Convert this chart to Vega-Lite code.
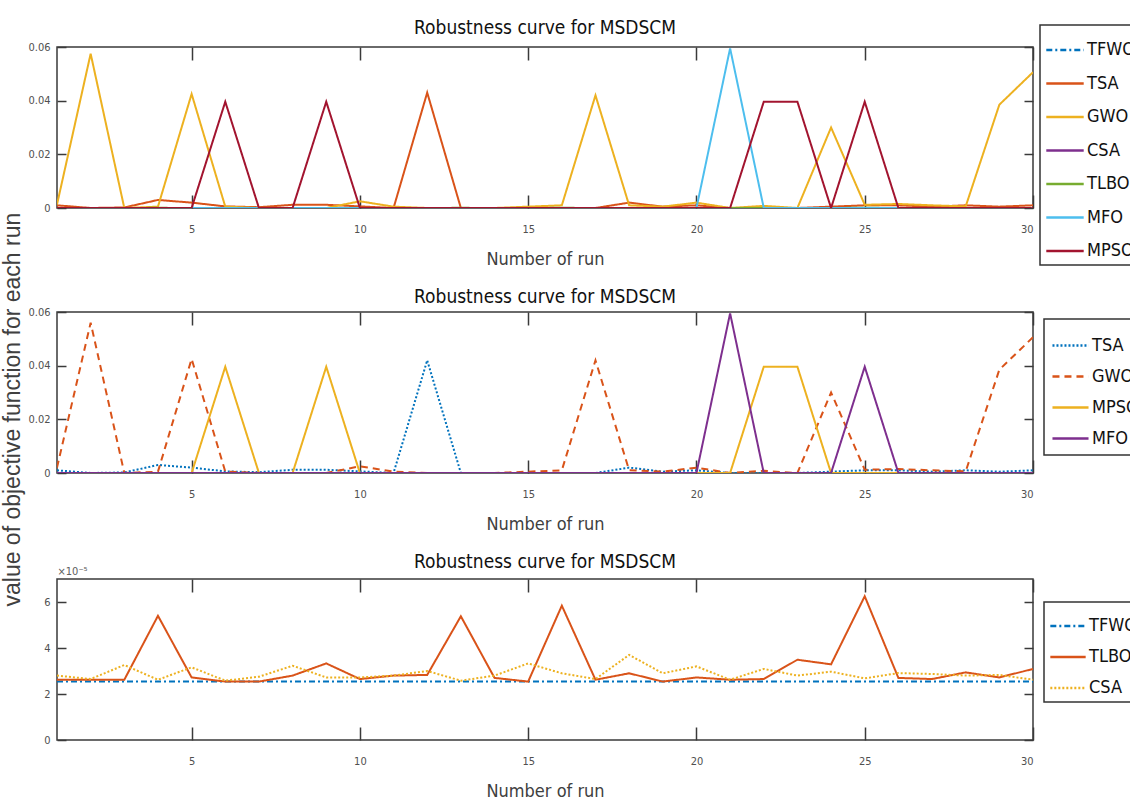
{
  "$schema": "https://vega.github.io/schema/vega-lite/v6.json",
  "background": "white",
  "padding": {"left": 2, "top": 18, "right": 0, "bottom": 0},
  "title": {"text": "value of objective function for each run", "orient": "left", "anchor": "middle", "font": "Liberation Sans, Arial, sans-serif", "fontSize": 23, "fontWeight": "normal", "color": "#404040", "offset": 2},
  "datasets": {
    "p1": [
      {"run":1,"TFWO":0.0000254,"TSA":0.001,"GWO":0.0013,"CSA":0.000028,"TLBO":0.0000262,"MFO":0,"MPSO":0},
      {"run":2,"TFWO":0.0000254,"TSA":0,"GWO":0.0575,"CSA":0.0000265,"TLBO":0.0000262,"MFO":0,"MPSO":0},
      {"run":3,"TFWO":0.0000254,"TSA":0.0002,"GWO":0,"CSA":0.0000326,"TLBO":0.0000262,"MFO":0,"MPSO":0},
      {"run":4,"TFWO":0.0000254,"TSA":0.003,"GWO":0.0005,"CSA":0.0000262,"TLBO":0.000054,"MFO":0,"MPSO":0},
      {"run":5,"TFWO":0.0000254,"TSA":0.002,"GWO":0.0425,"CSA":0.0000316,"TLBO":0.0000272,"MFO":0,"MPSO":0},
      {"run":6,"TFWO":0.0000254,"TSA":0.0006,"GWO":0.0005,"CSA":0.0000258,"TLBO":0.0000254,"MFO":0,"MPSO":0.0396},
      {"run":7,"TFWO":0.0000254,"TSA":0.0003,"GWO":0,"CSA":0.0000275,"TLBO":0.0000254,"MFO":0,"MPSO":0},
      {"run":8,"TFWO":0.0000254,"TSA":0.0012,"GWO":0,"CSA":0.0000323,"TLBO":0.000028,"MFO":0,"MPSO":0},
      {"run":9,"TFWO":0.0000254,"TSA":0.0012,"GWO":0,"CSA":0.0000272,"TLBO":0.0000333,"MFO":0,"MPSO":0.0396},
      {"run":10,"TFWO":0.0000254,"TSA":0.0006,"GWO":0.0025,"CSA":0.0000272,"TLBO":0.0000265,"MFO":0,"MPSO":0},
      {"run":11,"TFWO":0.0000254,"TSA":0,"GWO":0.0005,"CSA":0.000028,"TLBO":0.000028,"MFO":0,"MPSO":0},
      {"run":12,"TFWO":0.0000254,"TSA":0.043,"GWO":0,"CSA":0.00003,"TLBO":0.0000283,"MFO":0,"MPSO":0},
      {"run":13,"TFWO":0.0000254,"TSA":0,"GWO":0,"CSA":0.0000258,"TLBO":0.0000538,"MFO":0,"MPSO":0},
      {"run":14,"TFWO":0.0000254,"TSA":0,"GWO":0,"CSA":0.000028,"TLBO":0.000027,"MFO":0,"MPSO":0},
      {"run":15,"TFWO":0.0000254,"TSA":0,"GWO":0.0005,"CSA":0.0000333,"TLBO":0.0000254,"MFO":0,"MPSO":0},
      {"run":16,"TFWO":0.0000254,"TSA":0,"GWO":0.001,"CSA":0.000029,"TLBO":0.0000584,"MFO":0,"MPSO":0},
      {"run":17,"TFWO":0.0000254,"TSA":0,"GWO":0.042,"CSA":0.0000265,"TLBO":0.0000262,"MFO":0,"MPSO":0},
      {"run":18,"TFWO":0.0000254,"TSA":0.002,"GWO":0.001,"CSA":0.000037,"TLBO":0.000029,"MFO":0,"MPSO":0},
      {"run":19,"TFWO":0.0000254,"TSA":0.0005,"GWO":0.0005,"CSA":0.000029,"TLBO":0.0000254,"MFO":0,"MPSO":0},
      {"run":20,"TFWO":0.0000254,"TSA":0.001,"GWO":0.002,"CSA":0.000032,"TLBO":0.0000272,"MFO":0,"MPSO":0},
      {"run":21,"TFWO":0.0000254,"TSA":0,"GWO":0,"CSA":0.0000262,"TLBO":0.0000262,"MFO":0.0595,"MPSO":0},
      {"run":22,"TFWO":0.0000254,"TSA":0,"GWO":0.0008,"CSA":0.0000309,"TLBO":0.0000265,"MFO":0,"MPSO":0.0396},
      {"run":23,"TFWO":0.0000254,"TSA":0,"GWO":0,"CSA":0.000028,"TLBO":0.0000349,"MFO":0,"MPSO":0.0396},
      {"run":24,"TFWO":0.0000254,"TSA":0.0005,"GWO":0.03,"CSA":0.0000297,"TLBO":0.0000329,"MFO":0,"MPSO":0},
      {"run":25,"TFWO":0.0000254,"TSA":0.001,"GWO":0.0012,"CSA":0.0000268,"TLBO":0.0000625,"MFO":0,"MPSO":0.0396},
      {"run":26,"TFWO":0.0000254,"TSA":0.001,"GWO":0.0015,"CSA":0.0000291,"TLBO":0.000027,"MFO":0,"MPSO":0},
      {"run":27,"TFWO":0.0000254,"TSA":0.0005,"GWO":0.001,"CSA":0.0000287,"TLBO":0.0000265,"MFO":0,"MPSO":0},
      {"run":28,"TFWO":0.0000254,"TSA":0.001,"GWO":0.0006,"CSA":0.000028,"TLBO":0.0000294,"MFO":0,"MPSO":0},
      {"run":29,"TFWO":0.0000254,"TSA":0.0005,"GWO":0.0385,"CSA":0.0000283,"TLBO":0.0000272,"MFO":0,"MPSO":0},
      {"run":30,"TFWO":0.0000254,"TSA":0.001,"GWO":0.0506,"CSA":0.0000262,"TLBO":0.0000309,"MFO":0,"MPSO":0}
    ],
    "p2": [
      {"run":1,"TSA":0.001,"GWO":0.002,"MPSO":0,"MFO":0},
      {"run":2,"TSA":0,"GWO":0.056,"MPSO":0,"MFO":0},
      {"run":3,"TSA":0.0002,"GWO":0,"MPSO":0,"MFO":0},
      {"run":4,"TSA":0.003,"GWO":0.0005,"MPSO":0,"MFO":0},
      {"run":5,"TSA":0.002,"GWO":0.0425,"MPSO":0,"MFO":0},
      {"run":6,"TSA":0.0006,"GWO":0.0005,"MPSO":0.0396,"MFO":0},
      {"run":7,"TSA":0.0003,"GWO":0,"MPSO":0,"MFO":0},
      {"run":8,"TSA":0.0012,"GWO":0,"MPSO":0,"MFO":0},
      {"run":9,"TSA":0.0012,"GWO":0,"MPSO":0.0396,"MFO":0},
      {"run":10,"TSA":0.0006,"GWO":0.0025,"MPSO":0,"MFO":0},
      {"run":11,"TSA":0,"GWO":0.0005,"MPSO":0,"MFO":0},
      {"run":12,"TSA":0.042,"GWO":0,"MPSO":0,"MFO":0},
      {"run":13,"TSA":0,"GWO":0,"MPSO":0,"MFO":0},
      {"run":14,"TSA":0,"GWO":0,"MPSO":0,"MFO":0},
      {"run":15,"TSA":0,"GWO":0.0005,"MPSO":0,"MFO":0},
      {"run":16,"TSA":0,"GWO":0.001,"MPSO":0,"MFO":0},
      {"run":17,"TSA":0,"GWO":0.042,"MPSO":0,"MFO":0},
      {"run":18,"TSA":0.002,"GWO":0.001,"MPSO":0,"MFO":0},
      {"run":19,"TSA":0.0005,"GWO":0.0005,"MPSO":0,"MFO":0},
      {"run":20,"TSA":0.001,"GWO":0.002,"MPSO":0,"MFO":0},
      {"run":21,"TSA":0,"GWO":0,"MPSO":0,"MFO":0.0595},
      {"run":22,"TSA":0,"GWO":0.0008,"MPSO":0.0396,"MFO":0},
      {"run":23,"TSA":0,"GWO":0,"MPSO":0.0396,"MFO":0},
      {"run":24,"TSA":0.0005,"GWO":0.03,"MPSO":0,"MFO":0},
      {"run":25,"TSA":0.001,"GWO":0.0012,"MPSO":0,"MFO":0.0396},
      {"run":26,"TSA":0.001,"GWO":0.0015,"MPSO":0,"MFO":0},
      {"run":27,"TSA":0.0005,"GWO":0.001,"MPSO":0,"MFO":0},
      {"run":28,"TSA":0.001,"GWO":0.0006,"MPSO":0,"MFO":0},
      {"run":29,"TSA":0.0005,"GWO":0.0385,"MPSO":0,"MFO":0},
      {"run":30,"TSA":0.001,"GWO":0.0506,"MPSO":0,"MFO":0}
    ]
  },
  "spacing": 18,
  "vconcat": [
    {
      "title": {"text": "Robustness curve for MSDSCM", "dy": 18},
      "width": 976, "height": 161,
      "data": {"name": "p1"},
      "transform": [{"fold": ["TFWO","TSA","GWO","CSA","TLBO","MFO","MPSO"], "as": ["alg","v"]}],
      "layer": [
        {
          "mark": {"type": "line", "strokeWidth": 2, "clip": true},
          "encoding": {
            "x": {"field": "run", "type": "quantitative", "scale": {"domain": [1,30], "nice": false}, "axis": {"values": [5,10,15,20,25,30], "title": "Number of run"}},
            "y": {"field": "v", "type": "quantitative", "scale": {"domain": [0,0.06], "nice": false}, "axis": {"values": [0,0.02,0.04,0.06], "format": "~g", "title": null}},
            "color": {"field": "alg", "type": "nominal", "scale": {"domain": ["TFWO","TSA","GWO","CSA","TLBO","MFO","MPSO"], "range": ["#0072BD","#D95319","#EDB120","#7E2F8E","#77AC30","#4DBEEE","#A2142F"]}, "legend": {"orient": "none", "legendX": 983, "legendY": -22, "symbolSize": 1400, "rowPadding": 4.5}},
            "strokeDash": {"field": "alg", "type": "nominal", "scale": {"domain": ["TFWO","TSA","GWO","CSA","TLBO","MFO","MPSO"], "range": [[6,3,2,3],[1,0],[1,0],[1,0],[1,0],[1,0],[1,0]]}, "legend": {"orient": "none", "legendX": 983, "legendY": -22, "symbolSize": 1400, "rowPadding": 4.5}}
          }
        },
        {
          "mark": {"type": "line", "opacity": 0},
          "encoding": {
            "x": {"field": "run", "type": "quantitative", "axis": {"orient": "top", "values": [5,10,15,20,25,30], "labels": false, "title": null}},
            "y": {"field": "v", "type": "quantitative", "axis": {"orient": "right", "values": [0,0.02,0.04,0.06], "labels": false, "title": null}},
            "detail": {"field": "alg"}
          }
        }
      ],
      "resolve": {"axis": {"x": "independent", "y": "independent"}}
    },
    {
      "title": {"text": "Robustness curve for MSDSCM", "dy": 5},
      "width": 976, "height": 161,
      "data": {"name": "p2"},
      "transform": [{"fold": ["TSA","GWO","MPSO","MFO"], "as": ["alg","v"]}],
      "layer": [
        {
          "mark": {"type": "line", "strokeWidth": 2, "clip": true},
          "encoding": {
            "x": {"field": "run", "type": "quantitative", "scale": {"domain": [1,30], "nice": false}, "axis": {"values": [5,10,15,20,25,30], "title": "Number of run"}},
            "y": {"field": "v", "type": "quantitative", "scale": {"domain": [0,0.06], "nice": false}, "axis": {"values": [0,0.02,0.04,0.06], "format": "~g", "title": null}},
            "color": {"field": "alg", "type": "nominal", "scale": {"domain": ["TSA","GWO","MPSO","MFO"], "range": ["#0072BD","#D95319","#EDB120","#7E2F8E"]}, "legend": {"orient": "none", "legendX": 987, "legendY": 7, "symbolSize": 1300, "rowPadding": 2, "padding": 7}},
            "strokeDash": {"field": "alg", "type": "nominal", "scale": {"domain": ["TSA","GWO","MPSO","MFO"], "range": [[2,2],[7,5],[1,0],[1,0]]}, "legend": {"orient": "none", "legendX": 987, "legendY": 7, "symbolSize": 1300, "rowPadding": 2, "padding": 7}}
          }
        },
        {
          "mark": {"type": "line", "opacity": 0},
          "encoding": {
            "x": {"field": "run", "type": "quantitative", "axis": {"orient": "top", "values": [5,10,15,20,25,30], "labels": false, "title": null}},
            "y": {"field": "v", "type": "quantitative", "axis": {"orient": "right", "values": [0,0.02,0.04,0.06], "labels": false, "title": null}},
            "detail": {"field": "alg"}
          }
        }
      ],
      "resolve": {"axis": {"x": "independent", "y": "independent"}}
    },
    {
      "title": {"text": "Robustness curve for MSDSCM", "dy": 11},
      "width": 976, "height": 161,
      "data": {"name": "p1"},
      "transform": [{"fold": ["TFWO","TLBO","CSA"], "as": ["alg","v"]}],
      "layer": [
        {
          "mark": {"type": "line", "strokeWidth": 2, "clip": true},
          "encoding": {
            "x": {"field": "run", "type": "quantitative", "scale": {"domain": [1,30], "nice": false}, "axis": {"values": [5,10,15,20,25,30], "title": "Number of run"}},
            "y": {"field": "v", "type": "quantitative", "scale": {"domain": [0,0.00007], "nice": false}, "axis": {"values": [0,0.00002,0.00004,0.00006], "labelExpr": "round(datum.value*100000)", "title": "×10⁻⁵", "titleX": 0, "titleY": -3, "titleAngle": 0, "titleAlign": "left", "titleBaseline": "bottom", "titleFontSize": 11, "titleFontWeight": "normal", "titleColor": "#606060"}},
            "color": {"field": "alg", "type": "nominal", "scale": {"domain": ["TFWO","TLBO","CSA"], "range": ["#0072BD","#D95319","#EDB120"]}, "legend": {"orient": "none", "legendX": 987, "legendY": 23, "symbolSize": 1250, "rowPadding": 3}},
            "strokeDash": {"field": "alg", "type": "nominal", "scale": {"domain": ["TFWO","TLBO","CSA"], "range": [[6,3,2,3],[1,0],[2,2]]}, "legend": {"orient": "none", "legendX": 987, "legendY": 23, "symbolSize": 1250, "rowPadding": 3}}
          }
        },
        {
          "mark": {"type": "line", "opacity": 0},
          "encoding": {
            "x": {"field": "run", "type": "quantitative", "axis": {"orient": "top", "values": [5,10,15,20,25,30], "labels": false, "title": null}},
            "y": {"field": "v", "type": "quantitative", "axis": {"orient": "right", "values": [0,0.00002,0.00004,0.00006], "labels": false, "title": null}},
            "detail": {"field": "alg"}
          }
        }
      ],
      "resolve": {"axis": {"x": "independent", "y": "independent"}}
    }
  ],
  "resolve": {"scale": {"color": "independent", "strokeDash": "independent"}, "legend": {"color": "independent", "strokeDash": "independent"}},
  "config": {
    "font": "Liberation Sans Narrow, DejaVu Sans Condensed, Roboto Condensed, sans-serif",
    "view": {"stroke": "#3a3a3a", "strokeWidth": 1.5},
    "title": {"fontSize": 19, "fontWeight": "normal", "color": "#111", "offset": 0, "anchor": "middle"},
    "axis": {"grid": false, "domain": false, "tickColor": "#3a3a3a", "tickWidth": 1.5, "tickSize": -9, "labelPadding": 16, "labelFontSize": 11, "labelColor": "#505050", "titleFontSize": 18, "titleFontWeight": "normal", "titleColor": "#404040", "titlePadding": 16},
    "axisX": {"tickSize": -13, "labelPadding": 28},
    "legend": {"title": null, "symbolType": "stroke", "symbolStrokeWidth": 2.5, "labelFontSize": 18, "labelColor": "#111", "labelOffset": 2, "strokeColor": "#333", "strokeWidth": 1.5, "fillColor": "white", "padding": 5, "cornerRadius": 0}
  }
}
